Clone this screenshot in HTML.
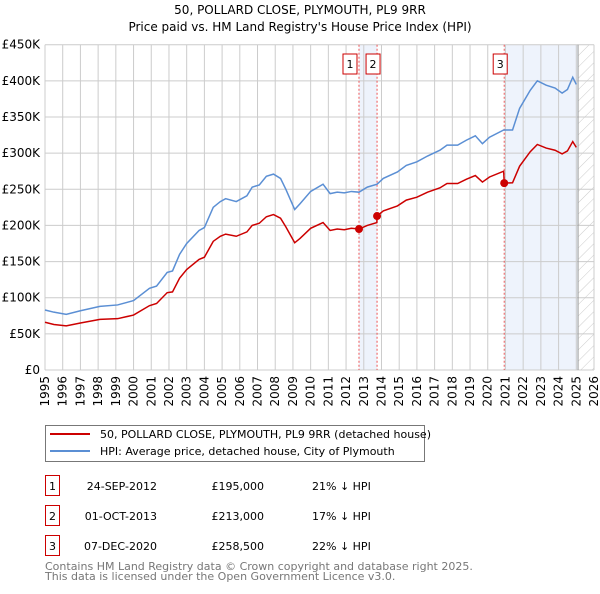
<!DOCTYPE html>
<html><head><meta charset="utf-8"><style>
body{margin:0;background:#fff;font-family:"DejaVu Sans","Liberation Sans",sans-serif;}
svg text{font-family:"DejaVu Sans","Liberation Sans",sans-serif;}
</style></head><body>
<svg id="chart" width="600" height="590" viewBox="0 0 600 590" xmlns="http://www.w3.org/2000/svg">
<defs><pattern id="hatch" width="8" height="8" patternUnits="userSpaceOnUse" patternTransform="rotate(45)"><line x1="0" y1="0" x2="0" y2="8" stroke="#ccc" stroke-width="1"/></pattern></defs>
<text x="300" y="14" text-anchor="middle" font-size="12">50, POLLARD CLOSE, PLYMOUTH, PL9 9RR</text>
<text x="300" y="31" text-anchor="middle" font-size="12">Price paid vs. HM Land Registry's House Price Index (HPI)</text>
<g id="bg"></g><g id="grid"></g><g id="series"></g><g id="axes"></g>
<g>
<rect x="45.5" y="425.5" width="379" height="36" fill="#fff" stroke="#777"/>
<line x1="50" y1="434" x2="90" y2="434" stroke="#cc0000" stroke-width="2"/>
<text x="100" y="438" font-size="11">50, POLLARD CLOSE, PLYMOUTH, PL9 9RR (detached house)</text>
<line x1="50" y1="451" x2="90" y2="451" stroke="#5b8fd4" stroke-width="2"/>
<text x="100" y="455" font-size="11">HPI: Average price, detached house, City of Plymouth</text>
</g>
<g id="table"></g>
<text x="45" y="570" font-size="11" fill="#777">Contains HM Land Registry data © Crown copyright and database right 2025.</text>
<text x="45" y="580" font-size="11" fill="#777">This data is licensed under the Open Government Licence v3.0.</text>
</svg>
<script>
const hpiYears=[1995,1995.5,1996.2,1997,1998.1,1999.1,2000,2000.9,2001.3,2001.9,2002.2,2002.6,2003,2003.7,2004,2004.5,2004.9,2005.2,2005.8,2006.4,2006.7,2007.1,2007.5,2007.9,2008.3,2008.6,2009.1,2009.4,2010,2010.7,2011.1,2011.5,2011.9,2012.3,2012.73,2013.2,2013.75,2014.1,2014.9,2015.4,2016,2016.6,2017.3,2017.7,2018.3,2018.8,2019.3,2019.7,2020.1,2020.9,2021.4,2021.8,2022.4,2022.8,2023.3,2023.8,2024.2,2024.5,2024.8,2025.0];
const hpiValues=[83,80,77,82,88,90,96,113,116,135,137,160,175,193,197,225,233,237,233,241,253,256,268,271,265,250,222,230,247,257,244,246,245,247,246,253,257,265,274,283,288,296,304,311,311,318,324,313,322,332,332,362,387,400,394,390,383,388,405,395];
const redYears=[1995,1995.5,1996.2,1997,1998.1,1999.1,2000,2000.9,2001.3,2001.9,2002.2,2002.6,2003,2003.7,2004,2004.5,2004.9,2005.2,2005.8,2006.4,2006.7,2007.1,2007.5,2007.9,2008.3,2008.6,2009.1,2009.4,2010,2010.7,2011.1,2011.5,2011.9,2012.3,2012.73,2013.2,2013.74,2013.75,2014.1,2014.9,2015.4,2016,2016.6,2017.3,2017.7,2018.3,2018.8,2019.3,2019.7,2020.1,2020.9,2020.93,2021.4,2021.8,2022.4,2022.8,2023.3,2023.8,2024.2,2024.5,2024.8,2025.0];
const redValues=[66,63,61,65,70,71,76,89,92,107,108,127,139,153,156,178,185,188,185,191,200,203,212,215,210,198,176,182,196,204,193,195,194,196,195,200,204,213,220,227,235,239,246,252,258,258,264,269,260,267,275,258.5,259,282,302,312,307,304,299,303,316,308];
const saleYears=[2012.73,2013.75,2020.93];
const saleValues=[195,213,258.5];
const saleLabels=["1","2","3"];
const saleDates=["24-SEP-2012","01-OCT-2013","07-DEC-2020"];
const salePrices=["£195,000","£213,000","£258,500"];
const saleHpi=["21% ↓ HPI","17% ↓ HPI","22% ↓ HPI"];
const yTicks=[0,50,100,150,200,250,300,350,400,450];
const yTickLabels=["£0","£50K","£100K","£150K","£200K","£250K","£300K","£350K","£400K","£450K"];
const xTicks=[1995,1996,1997,1998,1999,2000,2001,2002,2003,2004,2005,2006,2007,2008,2009,2010,2011,2012,2013,2014,2015,2016,2017,2018,2019,2020,2021,2022,2023,2024,2025,2026];

const NS="http://www.w3.org/2000/svg";
const X0=45,X1=594,Y0=370,Y1=44.7;
const x=y=>X0+(y-1995)/(2026-1995)*(X1-X0);
const yv=v=>Y0-v/450*(Y0-Y1);
function mk(parent,tag,attrs){const e=document.createElementNS(NS,tag);for(const k in attrs)e.setAttribute(k,attrs[k]);document.getElementById(parent).appendChild(e);return e;}
// backgrounds
let e=mk('bg','rect',{x:x(saleYears[0]),y:Y1,width:x(saleYears[1])-x(saleYears[0]),height:Y0-Y1,fill:'#eef3fc'});

e=mk('bg','rect',{x:x(saleYears[2]),y:Y1,width:x(2025.1)-x(saleYears[2]),height:Y0-Y1,fill:'#eef3fc'});

e=mk('bg','rect',{x:x(2025.1),y:Y1,width:X1-x(2025.1),height:Y0-Y1,fill:'url(#hatch)'});

// grid
yTicks.forEach((t,i)=>{let l=mk('grid','line',{x1:X0,x2:X1,y1:yv(t),y2:yv(t),stroke:'#ccc','stroke-width':1});

let tx=mk('axes','text',{x:40,y:yv(t)+4,'text-anchor':'end','font-size':12});tx.textContent=yTickLabels[i];
});
xTicks.forEach(t=>{let l=mk('grid','line',{x1:x(t),x2:x(t),y1:Y1,y2:Y0,stroke:'#ccc','stroke-width':1});

let tx=mk('axes','text',{x:0,y:0,'text-anchor':'end','font-size':12,transform:`translate(${x(t)+4},376) rotate(-90)`});tx.textContent=t;
});
e=mk('grid','line',{x1:x(2025.1),x2:x(2025.1),y1:Y1,y2:Y0,stroke:'#999','stroke-width':1});

// sale vlines
saleYears.forEach((s,i)=>{let l=mk('series','line',{x1:x(s),x2:x(s),y1:Y1,y2:Y0,stroke:'#e55','stroke-width':1,'stroke-dasharray':'2,2'});

let r=mk('series','rect',{x:x(s)-16,y:54,width:14,height:20,fill:'#fff',stroke:'#cc0000'});
if(i==1)r.setAttribute('x',x(s)-11);if(i==2)r.setAttribute('x',x(s)-11);

let t=mk('series','text',{x:+r.getAttribute('x')+7,y:68,'text-anchor':'middle','font-size':11});t.textContent=saleLabels[i];
});
// lines
let p=mk('series','polyline',{points:hpiYears.map((yy,i)=>x(yy)+','+yv(hpiValues[i])).join(' '),fill:'none',stroke:'#5b8fd4','stroke-width':1.5});

p=mk('series','polyline',{points:redYears.map((yy,i)=>x(yy)+','+yv(redValues[i])).join(' '),fill:'none',stroke:'#cc0000','stroke-width':1.5});

saleYears.forEach((s,i)=>{let c=mk('series','circle',{cx:x(s),cy:yv(saleValues[i]),r:4,fill:'#cc0000'});
});
// table
saleLabels.forEach((lb,i)=>{const yy=475+i*30;
let r=mk('table','rect',{x:45.5,y:yy+0.5,width:14,height:20,fill:'#fff',stroke:'#cc0000'});

let t=mk('table','text',{x:52.5,y:yy+15,'text-anchor':'middle','font-size':11});t.textContent=lb;

t=mk('table','text',{x:157,y:yy+15,'text-anchor':'end','font-size':11});t.textContent=saleDates[i];

t=mk('table','text',{x:264,y:yy+15,'text-anchor':'end','font-size':11});t.textContent=salePrices[i];

t=mk('table','text',{x:312,y:yy+15,'font-size':11});t.textContent=saleHpi[i];
});
</script>
</body></html>
